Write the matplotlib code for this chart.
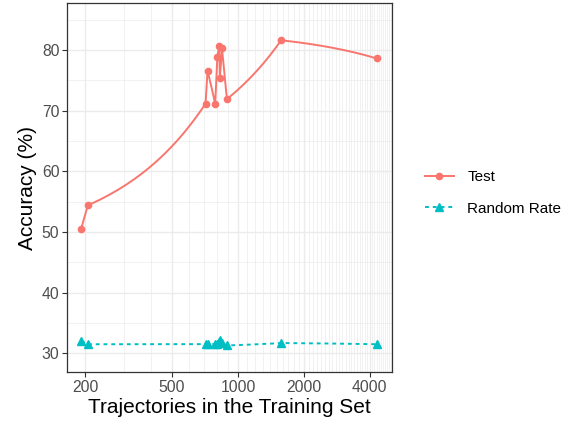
import numpy as np
import matplotlib
matplotlib.use('Agg')
import matplotlib.pyplot as plt
from matplotlib.ticker import FixedLocator, NullFormatter

plt.rcParams['font.family'] = ['Liberation Sans', 'DejaVu Sans']

# Data
trajectories = [192, 206, 711, 726, 787, 804, 821, 826, 845, 890, 1575, 4303]
test_acc = [50.5, 54.4, 71.15, 76.6, 71.15, 78.85, 80.7, 75.3, 80.25, 71.9, 81.6, 78.6]
random_rate = [32.1, 31.5, 31.5, 31.6, 31.5, 31.6, 31.8, 32.2, 31.7, 31.3, 31.7, 31.5]

x_ticks = [200, 500, 1000, 2000, 4000]
y_ticks = [30, 40, 50, 60, 70, 80]

test_color = '#F8766D'
random_color = '#00BFC4'


def linear_path(xs, ys, n=40):
    # lines are straight in linear x, drawn on a log axis (like coord_trans)
    px, py = [], []
    for i in range(len(xs) - 1):
        t = np.linspace(0, 1, n)
        px.extend(xs[i] + t * (xs[i + 1] - xs[i]))
        py.extend(ys[i] + t * (ys[i + 1] - ys[i]))
    return px, py


fig = plt.figure(figsize=(5.73, 4.21), dpi=100)
ax = fig.add_axes([0.117, 0.116, 0.567, 0.877])
ax.set_xscale('log')
ax.set_xlim(165.6, 5050)
ax.set_ylim(26.9, 87.75)

# grid
minor_x = [v for v in range(100, 5100, 100) if v not in x_ticks]
ax.xaxis.set_major_locator(FixedLocator(x_ticks))
ax.xaxis.set_minor_locator(FixedLocator(minor_x))
ax.xaxis.set_minor_formatter(NullFormatter())
ax.set_xticklabels([str(v) for v in x_ticks])
ax.yaxis.set_major_locator(FixedLocator(y_ticks))
ax.yaxis.set_minor_locator(FixedLocator([25, 35, 45, 55, 65, 75, 85]))
ax.grid(which='major', color='#EBEBEB', linewidth=1.0)
ax.grid(which='minor', color='#EBEBEB', linewidth=0.5)
ax.set_axisbelow(True)
ax.tick_params(which='minor', length=0)
ax.tick_params(which='major', length=3.5, width=0.8, color='#333333',
               labelsize=11.3, labelcolor='#4D4D4D', pad=2)
for s in ax.spines.values():
    s.set_color('#333333')
    s.set_linewidth(0.9)

lx, ly = linear_path(trajectories, test_acc)
ax.plot(lx, ly, color=test_color, lw=1.4, zorder=3)
ax.plot(trajectories, test_acc, 'o', color=test_color, ms=4.5, zorder=4)

rx, ry = linear_path(trajectories, random_rate)
ax.plot(rx, ry, color=random_color, lw=1.4, dashes=(2, 2), zorder=3)
ax.plot(trajectories, random_rate, '^', color=random_color, ms=5.5, zorder=4)

ax.set_xlabel('Trajectories in the Training Set', fontsize=15, labelpad=2)
ax.set_ylabel('Accuracy (%)', fontsize=15, labelpad=3)

# legend
h1, = ax.plot([], [], color=test_color, lw=1.4, marker='o', ms=4.5)
h2, = ax.plot([], [], color=random_color, lw=1.4, dashes=(2, 2), marker='^', ms=5.5)
fig.legend([h1, h2], ['Test', 'Random Rate'], loc='center left',
           bbox_to_anchor=(0.717, 0.542), frameon=False, fontsize=11,
           handlelength=1.9, handletextpad=0.9, labelspacing=1.15)

fig.savefig('out.png', dpi=100)
